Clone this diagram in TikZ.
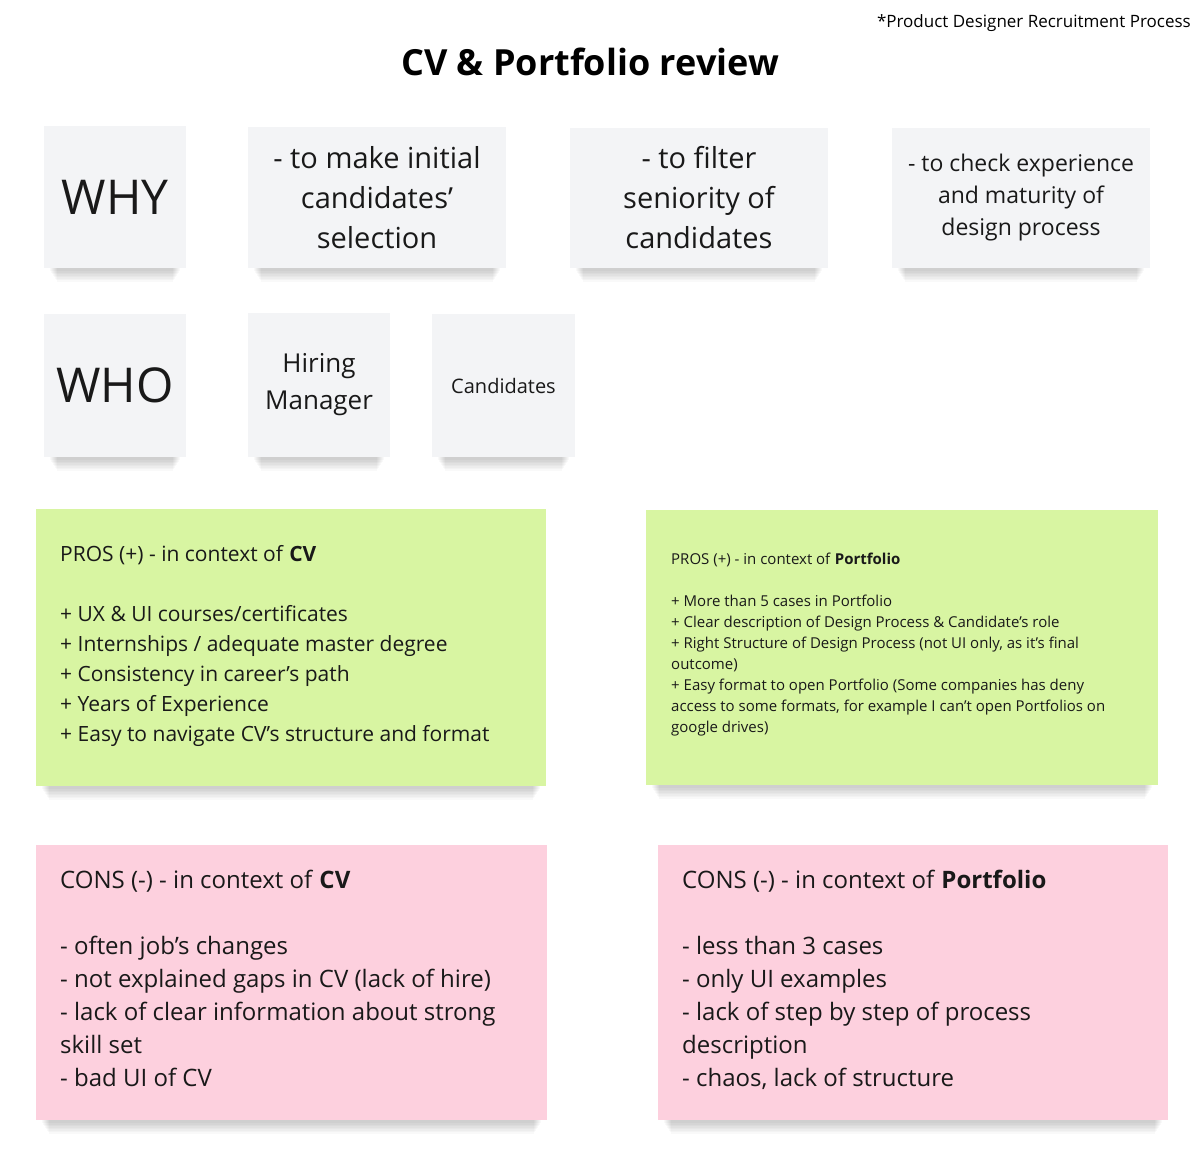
\documentclass[tikz,border=0pt]{standalone}
\usepackage{fontspec}
\setmainfont{Open Sans}
\definecolor{notegray}{HTML}{F3F4F6}
\definecolor{notegreen}{HTML}{D8F5A2}
\definecolor{notepink}{HTML}{FDD0DE}
\tikzset{x=1pt,y=-1pt,
  note/.style={inner sep=0pt,align=center,text=black!90},
  body/.style={anchor=north west,inner sep=0pt,align=left,text=black!90}}
\newcommand{\fs}[2]{\fontsize{#1}{#2}\selectfont}
\newcommand{\sticky}[6]{% name x1 y1 x2 y2 fill
  \foreach \k in {0,...,7} {\fill[black,opacity=0.025] (#2+6+\k,#5-4) rectangle (#4-6-\k,#5+3+\k*1.5);}
  \fill[#6] (#2,#3) rectangle (#4,#5);
  \coordinate (#1) at ({(#2+#4)/2},{(#3+#5)/2});}
\begin{document}
\begin{tikzpicture}
\useasboundingbox (0,0) rectangle (1200,1159);
\fill[white] (0,0) rectangle (1200,1159);
\node[anchor=east,inner sep=0pt,font=\fs{17}{20}] (hdr) at (1191,23) {*Product Designer Recruitment Process};
\node[inner sep=0pt,font=\fs{36}{42}\bfseries] (title) at (590,62) {CV \& Portfolio review};
\sticky{n1}{44}{126}{186}{268}{notegray}
\node[note,font=\fs{48}{56}] (why) at (n1) {WHY};
\sticky{n2}{248}{127}{506}{268}{notegray}
\node[note,font=\fs{29}{40}] (t2) at (n2) {- to make initial\\candidates'\\selection};
\sticky{n3}{570}{128}{828}{268}{notegray}
\node[note,font=\fs{29}{40}] (t3) at (n3) {- to filter\\seniority of\\candidates};
\sticky{n4}{892}{128}{1150}{268}{notegray}
\node[note,font=\fs{23}{32}] (t4) at (n4) {- to check experience\\and maturity of\\design process};
\sticky{n5}{44}{314}{186}{457}{notegray}
\node[note,font=\fs{48}{56}] (who) at (n5) {WHO};
\sticky{n6}{248}{313}{390}{457}{notegray}
\node[note,font=\fs{26}{37}] (hm) at (n6) {Hiring\\Manager};
\sticky{n7}{432}{314}{575}{457}{notegray}
\node[note,font=\fs{20}{24}] (cand) at (n7) {Candidates};
\sticky{g1}{36}{509}{546}{786}{notegreen}
\node[body,font=\fs{21}{30}] (pcv) at (60,545) {PROS (+) - in context of \textbf{CV}\\[30pt]
+ UX \& UI courses/certificates\\
+ Internships / adequate master degree\\
+ Consistency in career's path\\
+ Years of Experience\\
+ Easy to navigate CV's structure and format};
\sticky{g2}{646}{510}{1158}{785}{notegreen}
\node[body,font=\fs{15}{21}] (ppf) at (671,553) {PROS (+) - in context of \textbf{Portfolio}\\[21pt]
+ More than 5 cases in Portfolio\\
+ Clear description of Design Process \& Candidate's role\\
+ Right Structure of Design Process (not UI only, as it's final\\
outcome)\\
+ Easy format to open Portfolio (Some companies has deny\\
access to some formats, for example I can't open Portfolios on\\
google drives)};
\sticky{p1}{36}{845}{547}{1120}{notepink}
\node[body,font=\fs{24}{33}] (ccv) at (60,870) {CONS (-) - in context of \textbf{CV}\\[33pt]
- often job's changes\\
- not explained gaps in CV (lack of hire)\\
- lack of clear information about strong\\
skill set\\
- bad UI of CV};
\sticky{p2}{658}{845}{1168}{1120}{notepink}
\node[body,font=\fs{24}{33}] (cpf) at (682,870) {CONS (-) - in context of \textbf{Portfolio}\\[33pt]
- less than 3 cases\\
- only UI examples\\
- lack of step by step of process\\
description\\
- chaos, lack of structure};
\end{tikzpicture}
\end{document}
